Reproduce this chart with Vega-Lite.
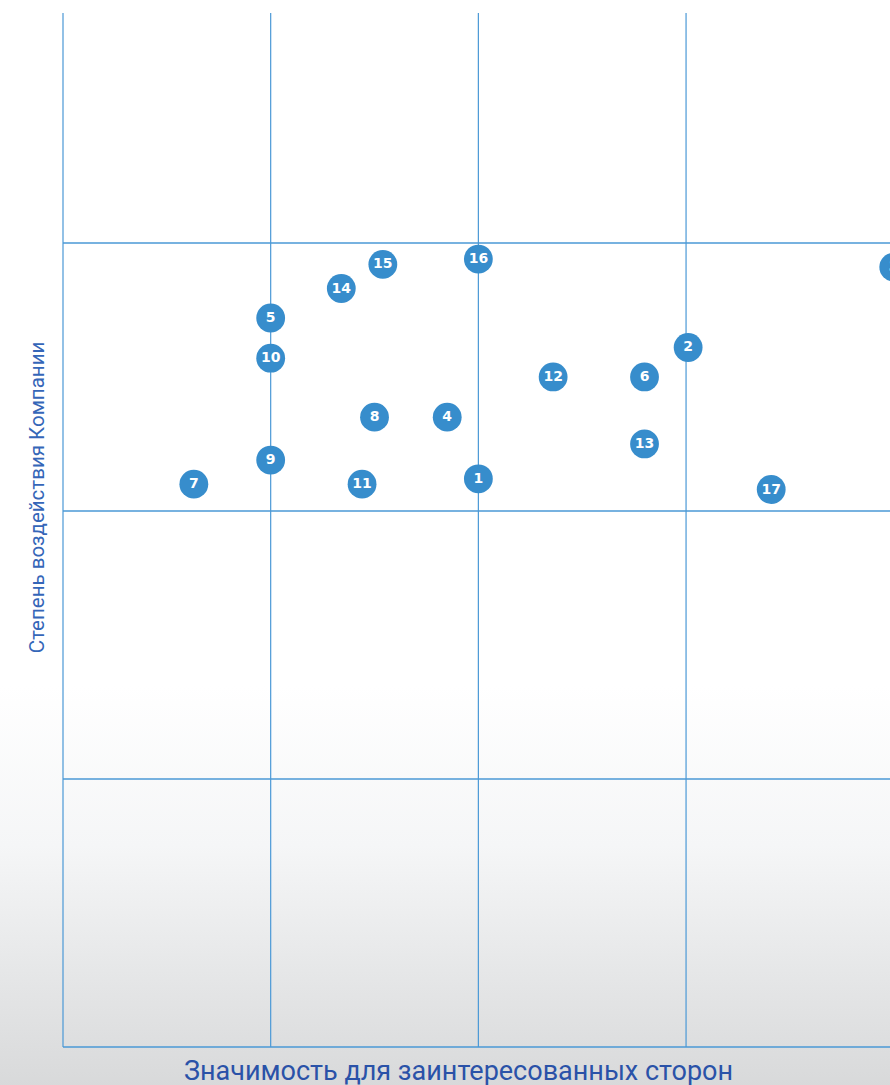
{
  "$schema": "https://vega.github.io/schema/vega-lite/v6.json",
  "width": 827,
  "height": 1034,
  "autosize": {"type": "none"},
  "padding": {"left": 63, "top": 13, "right": 0, "bottom": 38},
  "background": "white",
  "config": {"view": {"stroke": null}},
  "datasets": {
    "issues": [
      {"id": "1", "stakeholders": 2.0, "impact": 2.12},
      {"id": "2", "stakeholders": 3.01, "impact": 2.61},
      {"id": "3", "stakeholders": 4.0, "impact": 2.91},
      {"id": "4", "stakeholders": 1.85, "impact": 2.35},
      {"id": "5", "stakeholders": 1.0, "impact": 2.72},
      {"id": "6", "stakeholders": 2.8, "impact": 2.5},
      {"id": "7", "stakeholders": 0.63, "impact": 2.1},
      {"id": "8", "stakeholders": 1.5, "impact": 2.35},
      {"id": "9", "stakeholders": 1.0, "impact": 2.19},
      {"id": "10", "stakeholders": 1.0, "impact": 2.57},
      {"id": "11", "stakeholders": 1.44, "impact": 2.1},
      {"id": "12", "stakeholders": 2.36, "impact": 2.5},
      {"id": "13", "stakeholders": 2.8, "impact": 2.25},
      {"id": "14", "stakeholders": 1.34, "impact": 2.83},
      {"id": "15", "stakeholders": 1.54, "impact": 2.92},
      {"id": "16", "stakeholders": 2.0, "impact": 2.94},
      {"id": "17", "stakeholders": 3.41, "impact": 2.08}
    ],
    "bounds": [
      {"level": 0},
      {"level": 1},
      {"level": 2},
      {"level": 3}
    ]
  },
  "layer": [
    {
      "data": {"values": [{"from": -0.31, "to": 4.1, "top": 1.35, "bottom": -0.15}]},
      "mark": {
        "type": "rect",
        "fill": {
          "gradient": "linear",
          "x1": 0, "y1": 0, "x2": 0, "y2": 1,
          "stops": [
            {"offset": 0, "color": "#ffffff"},
            {"offset": 0.4, "color": "#f5f6f7"},
            {"offset": 1, "color": "#d8d9da"}
          ]
        }
      },
      "encoding": {
        "x": {"field": "from", "type": "quantitative", "scale": {"domain": [0, 3.982], "nice": false, "zero": false},
          "axis": {
            "zindex": 1,
            "grid": false,
            "labels": false,
            "ticks": false,
            "domain": false,
            "title": "Значимость для заинтересованных сторон",
            "titleFont": "Roboto",
            "titleFontSize": 27,
            "titleFontWeight": "normal",
            "titleColor": "#2a52a8",
            "titleX": 395,
            "titleY": 32,
            "titleAlign": "center",
            "titleBaseline": "alphabetic"
          }
        },
        "x2": {"field": "to"},
        "y": {"field": "top", "type": "quantitative", "scale": {"domain": [0, 3.858], "nice": false, "zero": false},
          "axis": {
            "zindex": 1,
            "grid": false,
            "labels": false,
            "ticks": false,
            "domain": false,
            "title": "Степень воздействия Компании",
            "titleFont": "Roboto",
            "titleFontSize": 20.5,
            "titleFontWeight": "normal",
            "titleColor": "#3566b8",
            "titleAngle": 270,
            "titleX": -26,
            "titleY": 484,
            "titleAlign": "center",
            "titleBaseline": "middle"
          }
        },
        "y2": {"field": "bottom"}
      }
    },
    {
      "data": {"name": "bounds"},
      "mark": {"type": "rule", "color": "#4a98d6", "strokeWidth": 1.2},
      "encoding": {
        "x": {"field": "level", "type": "quantitative"}
      }
    },
    {
      "data": {"name": "bounds"},
      "mark": {"type": "rule", "color": "#4a98d6", "strokeWidth": 1.6},
      "encoding": {
        "y": {"field": "level", "type": "quantitative"}
      }
    },
    {
      "data": {"name": "issues"},
      "mark": {"type": "circle", "size": 830, "opacity": 1, "color": "#378dcc"},
      "encoding": {
        "x": {"field": "stakeholders", "type": "quantitative"},
        "y": {"field": "impact", "type": "quantitative"}
      }
    },
    {
      "data": {"name": "issues"},
      "mark": {"type": "text", "color": "white", "font": "DejaVu Sans", "fontWeight": "bold", "fontSize": 14, "baseline": "middle", "align": "center"},
      "encoding": {
        "x": {"field": "stakeholders", "type": "quantitative"},
        "y": {"field": "impact", "type": "quantitative"},
        "text": {"field": "id", "type": "nominal"}
      }
    }
  ]
}
